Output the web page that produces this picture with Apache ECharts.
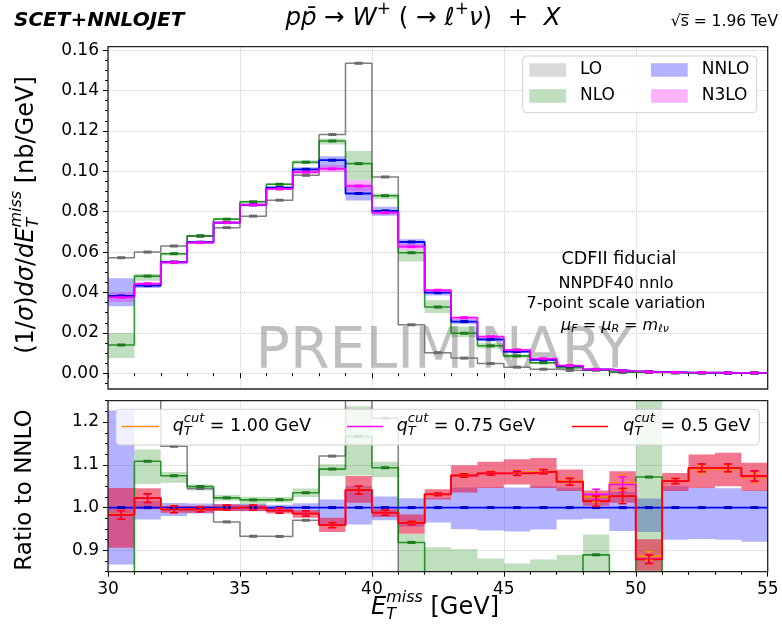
<!DOCTYPE html>
<html>
<head>
<meta charset="utf-8">
<title>W+ missing transverse energy at the Tevatron</title>
<script src="https://cdn.jsdelivr.net/npm/echarts@6.0.0/dist/echarts.min.js"></script>
<style>
html, body { margin: 0; padding: 0; background: #ffffff; }
#chart { width: 782px; height: 627px; }
</style>
</head>
<body>
<div id="chart"></div>
<script>
// Histogram bin edges in E_T^miss [GeV]
const binEdges = [30, 31, 32, 33, 34, 35, 36, 37, 38, 39, 40, 41, 42, 43, 44, 45, 46, 47, 48, 49, 50, 51, 52, 53, 54, 55];

// (1/sigma) dsigma/dE_T^miss [nb/GeV], central scale choice
const lo   = [0.0572, 0.0600, 0.0630, 0.0678, 0.0721, 0.0778, 0.0857, 0.0980, 0.1182, 0.1535, 0.0972, 0.0240, 0.0102, 0.0075, 0.0048, 0.0030, 0.0020, 0.0014, 0.00155, 0.0005, 0.0004, 0.0002, 0.0001, 0.0001, 0.0001];
const nlo  = [0.0140, 0.0481, 0.0592, 0.0681, 0.0763, 0.0849, 0.0936, 0.1045, 0.1150, 0.1038, 0.0879, 0.0597, 0.0328, 0.0198, 0.0136, 0.0086, 0.0052, 0.0028, 0.00169, 0.0006, 0.00075, 0.0002, 0.00015, 0.0001, 0.0001];
const nnlo = [0.0383, 0.0434, 0.0551, 0.0649, 0.0746, 0.0834, 0.0919, 0.1010, 0.1055, 0.0890, 0.0804, 0.0650, 0.0399, 0.0256, 0.0168, 0.0107, 0.0066, 0.0036, 0.0019, 0.0011, 0.0007, 0.0004, 0.0003, 0.0002, 0.0002];
const n3lo = [0.0376, 0.0443, 0.0549, 0.0647, 0.0746, 0.0834, 0.0913, 0.0996, 0.1012, 0.0927, 0.0795, 0.0627, 0.0411, 0.0275, 0.0181, 0.0116, 0.0072, 0.0038, 0.0019, 0.0011, 0.0006, 0.0004, 0.0003, 0.0002, 0.0002];

// 7-point scale-variation envelopes
const nloLow   = [0.0076, 0.0458, 0.0583, 0.0675, 0.0758, 0.0840, 0.0930, 0.1035, 0.1133, 0.0957, 0.0861, 0.0553, 0.0298, 0.0178, 0.0122, 0.0076, 0.0045, 0.0024, 0.0014, 0.0004, 0.0005, 0.00015, 0.0001, 0.00008, 0.00008];
const nloHigh  = [0.0199, 0.0493, 0.0597, 0.0684, 0.0768, 0.0855, 0.0942, 0.1055, 0.1162, 0.1101, 0.0890, 0.0610, 0.0362, 0.0231, 0.0148, 0.0093, 0.0058, 0.0032, 0.00178, 0.0008, 0.0010, 0.00025, 0.0002, 0.00012, 0.00012];
const nnloLow  = [0.0332, 0.0422, 0.0540, 0.0640, 0.0740, 0.0827, 0.0910, 0.0995, 0.1010, 0.0855, 0.0780, 0.0621, 0.0385, 0.0243, 0.0159, 0.0101, 0.00626, 0.00350, 0.00185, 0.00104, 0.00066, 0.00037, 0.000278, 0.000185, 0.000184];
const nnloHigh = [0.0470, 0.0441, 0.0557, 0.0655, 0.0752, 0.0841, 0.0925, 0.1020, 0.1075, 0.0935, 0.0825, 0.0664, 0.0408, 0.0268, 0.0176, 0.0112, 0.00693, 0.00377, 0.00196, 0.00114, 0.000715, 0.00042, 0.000314, 0.000209, 0.000208];
const n3loLow  = [0.0353, 0.0432, 0.0544, 0.0641, 0.0740, 0.0827, 0.0906, 0.0985, 0.0995, 0.0900, 0.0786, 0.0610, 0.0407, 0.0265, 0.0176, 0.0113, 0.0069, 0.0037, 0.0018, 0.00105, 0.00057, 0.00038, 0.00028, 0.00019, 0.00019];
const n3loHigh = [0.0400, 0.0453, 0.0554, 0.0652, 0.0752, 0.0841, 0.0919, 0.1004, 0.1030, 0.0956, 0.0801, 0.0640, 0.0416, 0.0281, 0.0186, 0.0119, 0.0074, 0.0039, 0.0020, 0.0012, 0.00065, 0.00043, 0.00034, 0.00022, 0.00022];

// N3LO / NNLO for three q_T slicing cuts
const ratioQt100 = [0.984, 1.023, 0.997, 0.997, 1.000, 1.000, 0.993, 0.986, 0.960, 1.042, 0.988, 0.965, 1.032, 1.076, 1.081, 1.083, 1.085, 1.063, 1.025, 1.058, 0.887, 1.063, 1.089, 1.091, 1.070];
const ratioQt075 = [0.983, 1.022, 0.996, 0.996, 1.000, 1.000, 0.993, 0.986, 0.959, 1.041, 0.988, 0.964, 1.031, 1.075, 1.080, 1.081, 1.084, 1.061, 1.031, 1.054, 0.880, 1.062, 1.093, 1.093, 1.073];
const ratioQt050 = [0.983, 1.022, 0.996, 0.996, 1.000, 1.000, 0.993, 0.986, 0.959, 1.041, 0.988, 0.964, 1.031, 1.075, 1.080, 1.080, 1.084, 1.060, 1.015, 1.027, 0.879, 1.062, 1.093, 1.093, 1.074];
const ratioQt050Low  = [0.906, 0.996, 0.988, 0.988, 0.992, 0.992, 0.986, 0.976, 0.943, 1.011, 0.978, 0.939, 1.019, 1.035, 1.046, 1.054, 1.046, 1.039, 1.004, 1.011, 0.852, 1.039, 1.046, 1.050, 1.039];
const ratioQt050High = [1.046, 1.045, 1.004, 1.004, 1.008, 1.006, 1.000, 0.994, 0.976, 1.074, 0.996, 0.984, 1.043, 1.099, 1.107, 1.113, 1.116, 1.089, 1.040, 1.085, 0.926, 1.081, 1.124, 1.128, 1.105];
// Monte Carlo integration uncertainty on the ratios
const ratioMcErr = [0.010, 0.010, 0.008, 0.006, 0.006, 0.006, 0.006, 0.006, 0.006, 0.009, 0.006, 0.004, 0.003, 0.004, 0.004, 0.005, 0.005, 0.008, 0.012, 0.018, 0.010, 0.006, 0.009, 0.009, 0.012];

// Axis tick values
const topTicks   = [0, 0.02, 0.04, 0.06, 0.08, 0.10, 0.12, 0.14, 0.16];
const ratioTicks = [0.9, 1.0, 1.1, 1.2];

// ---------- layout ----------
const FONT = '"DejaVu Sans"';
const PLOT_L = 108, PLOT_W = 659.7;
const TOP_T = 46.7, TOP_H = 342.3;
const BOT_T = 400.7, BOT_H = 171;
const TOP_MIN = -0.0078, TOP_MAX = 0.1617;
const RAT_MIN = 0.85, RAT_MAX = 1.25;

const minorTop = [];
for (let k = -1; k <= 32; k++) minorTop.push(+(k * 0.005).toFixed(4));
const minorRatio = [];
for (let k = 34; k <= 50; k++) minorRatio.push(+(k * 0.025).toFixed(4));

const nBins = binEdges.length - 1;
const binCenters = binEdges.slice(0, nBins).map((e, i) => (e + binEdges[i + 1]) / 2);
const toRatio = arr => arr.map((v, i) => v / nnlo[i]);
const stepData = vals => vals.map((v, i) => [binEdges[i], v]).concat([[binEdges[nBins], vals[nBins - 1]]]);

// ---------- series builders ----------
function stepLine(vals, color, width, panel, z) {
  return {
    type: 'line', xAxisIndex: panel, yAxisIndex: panel * 2, step: 'end',
    data: stepData(vals), showSymbol: false, symbol: 'none', silent: true,
    lineStyle: { color: color, width: width }, z: z, animation: false
  };
}

function stepBand(lowArr, highArr, color, panel, z) {
  return {
    type: 'custom', xAxisIndex: panel, yAxisIndex: panel * 2, silent: true, z: z,
    data: lowArr.map((v, i) => [binEdges[i], binEdges[i + 1], v, highArr[i]]),
    encode: { x: [0, 1], y: [2, 3] },
    renderItem: function (params, api) {
      if (params.dataIndex !== 0) return;
      const cs = params.coordSys;
      const cy = y => Math.min(Math.max(y, cs.y), cs.y + cs.height);
      const top = [], bot = [];
      for (let i = 0; i < lowArr.length; i++) {
        const a = api.coord([binEdges[i], highArr[i]]);
        const b = api.coord([binEdges[i + 1], highArr[i]]);
        const c = api.coord([binEdges[i], lowArr[i]]);
        const d = api.coord([binEdges[i + 1], lowArr[i]]);
        top.push([a[0], cy(a[1])], [b[0], cy(b[1])]);
        bot.push([c[0], cy(c[1])], [d[0], cy(d[1])]);
      }
      return { type: 'polygon', shape: { points: top.concat(bot.reverse()) }, style: { fill: color } };
    }
  };
}

function centreDashes(vals, color, panel, z) {
  return {
    type: 'custom', xAxisIndex: panel, yAxisIndex: panel * 2, silent: true, z: z,
    data: vals.map((v, i) => [binCenters[i], v]),
    encode: { x: 0, y: 1 },
    renderItem: function (params, api) {
      const p = api.coord([api.value(0), api.value(1)]);
      const cs = params.coordSys;
      if (p[1] < cs.y || p[1] > cs.y + cs.height) return;
      return { type: 'rect', shape: { x: p[0] - 4, y: p[1] - 1.5, width: 8, height: 3 }, style: { fill: color } };
    }
  };
}

function errorBars(vals, errs, color, z) {
  return {
    type: 'custom', xAxisIndex: 1, yAxisIndex: 2, silent: true, z: z,
    data: vals.map((v, i) => [binCenters[i], v, v - errs[i], v + errs[i]]),
    encode: { x: 0, y: [1, 2, 3] },
    renderItem: function (params, api) {
      const x = api.value(0);
      const c = api.coord([x, api.value(1)]);
      const l = api.coord([x, api.value(2)]);
      const h = api.coord([x, api.value(3)]);
      const cs = params.coordSys;
      if (c[1] < cs.y || c[1] > cs.y + cs.height) return;
      const st = { stroke: color, lineWidth: 1.5 };
      return {
        type: 'group', children: [
          { type: 'line', shape: { x1: c[0], y1: l[1], x2: c[0], y2: h[1] }, style: st },
          { type: 'line', shape: { x1: c[0] - 4, y1: l[1], x2: c[0] + 4, y2: l[1] }, style: st },
          { type: 'line', shape: { x1: c[0] - 4, y1: h[1], x2: c[0] + 4, y2: h[1] }, style: st }
        ]
      };
    }
  };
}

// ---------- text with sub/superscripts ----------
const measureCtx = document.createElement('canvas').getContext('2d');
function pieceFont(p) {
  return (p.i ? 'italic ' : '') + (p.b ? 'bold ' : '') + p.s + 'px ' + FONT;
}
function mathText(pieces, opt) {
  let x = 0, prevStart = 0;
  const z = opt.z || 100;
  const kids = [];
  pieces.forEach(p => {
    measureCtx.font = pieceFont(p);
    const w = measureCtx.measureText(p.t).width;
    const start = p.stack ? prevStart : x;
    kids.push({
      type: 'text', x: start, y: -(p.dy || 0), z: z,
      style: { text: p.t, font: pieceFont(p), fill: opt.color || '#000',
               align: 'left', textAlign: 'left', verticalAlign: 'middle', textVerticalAlign: 'middle' }
    });
    x = Math.max(x, start + w);
    prevStart = start;
  });
  const shift = opt.align === 'center' ? -x / 2 : (opt.align === 'right' ? -x : 0);
  kids.forEach(k => { k.x += shift; });
  return { type: 'group', x: opt.x, y: opt.y, rotation: opt.rotation || 0, z: z, children: kids };
}
function plainText(text, x, y, size, opt) {
  opt = opt || {};
  return {
    type: 'text', x: x, y: y, z: opt.z || 100,
    style: { text: text, font: (opt.italic ? 'italic ' : '') + (opt.bold ? 'bold ' : '') + size + 'px ' + FONT,
             fill: opt.color || '#000', opacity: opt.opacity == null ? 1 : opt.opacity,
             align: opt.align || 'center', textAlign: opt.align || 'center',
             verticalAlign: 'middle', textVerticalAlign: 'middle' }
  };
}

// ---------- colours ----------
const C = {
  loLine: 'rgba(105,105,105,0.85)', loFill: 'rgba(128,128,128,0.3)', loDash: '#6a6a6a',
  nloLine: 'rgba(0,128,0,0.8)', nloFill: 'rgba(0,128,0,0.25)', nloDash: '#1c7a1c',
  nnloLine: '#0000ff', nnloFill: 'rgba(0,0,255,0.3)', nnloDash: '#0000c8',
  n3loLine: 'rgba(255,0,255,0.9)', n3loFill: 'rgba(255,0,255,0.3)', n3loDash: '#ff00ff',
  qt100: '#ff8c00', qt075: '#ff00ff', qt050: '#ff0000', qt050Fill: 'rgba(232,20,60,0.58)'
};

// ---------- axes ----------
const gridLine = { show: true, lineStyle: { color: '#cccccc', type: 'dotted', width: 1 } };
function xAxisFor(panel) {
  return {
    type: 'value', gridIndex: panel, min: 30, max: 55, interval: 5,
    axisLine: { show: false },
    axisTick: { show: true, length: 5, lineStyle: { color: '#000', width: 1 } },
    minorTick: { show: true, splitNumber: 5, length: 3, lineStyle: { color: '#000', width: 1 } },
    axisLabel: { show: panel === 1, fontSize: 17, fontFamily: FONT, color: '#000', margin: 9 },
    splitLine: gridLine, minorSplitLine: { show: false }
  };
}
function yAxisMajor(panel, min, max, splitNumber, ticks, digits) {
  return {
    type: 'value', gridIndex: panel, position: 'left', min: min, max: max, splitNumber: splitNumber,
    axisLine: { show: false },
    axisTick: { show: true, length: 5, customValues: ticks, lineStyle: { color: '#000', width: 1 } },
    minorTick: { show: false },
    axisLabel: { show: true, customValues: ticks, fontSize: 17, fontFamily: FONT, color: '#000', margin: 9,
                 formatter: v => Number(v).toFixed(digits) },
    splitLine: gridLine
  };
}
function yAxisMinor(panel, min, max, ticks) {
  return {
    type: 'value', gridIndex: panel, position: 'left', min: min, max: max,
    axisLine: { show: false },
    axisTick: { show: true, length: 3, customValues: ticks, lineStyle: { color: '#000', width: 1 } },
    axisLabel: { show: false }, splitLine: { show: false }, minorTick: { show: false }
  };
}

// ---------- series ----------
const ones = nnlo.map(() => 1);
const series = [
  // distributions
  stepBand(nloLow, nloHigh, C.nloFill, 0, 1),
  stepBand(nnloLow, nnloHigh, C.nnloFill, 0, 1),
  stepBand(n3loLow, n3loHigh, C.n3loFill, 0, 1),
  stepLine(lo, C.loLine, 1.5, 0, 3),
  stepLine(nlo, C.nloLine, 1.6, 0, 3),
  stepLine(nnlo, C.nnloLine, 1.8, 0, 3),
  stepLine(n3lo, C.n3loLine, 1.8, 0, 3),
  centreDashes(lo, C.loDash, 0, 4),
  centreDashes(nlo, C.nloDash, 0, 4),
  centreDashes(nnlo, C.nnloDash, 0, 4),
  centreDashes(n3lo, C.n3loDash, 0, 4),
  // ratios to NNLO
  stepBand(toRatio(nnloLow), toRatio(nnloHigh), C.nnloFill, 1, 1),
  stepBand(toRatio(nloLow), toRatio(nloHigh), C.nloFill, 1, 1),
  stepBand(ratioQt050Low, ratioQt050High, C.qt050Fill, 1, 1),
  stepLine(toRatio(lo), C.loLine, 1.5, 1, 3),
  stepLine(toRatio(nlo), C.nloLine, 1.6, 1, 3),
  stepLine(ones, C.nnloLine, 1.6, 1, 3),
  stepLine(ratioQt100, C.qt100, 1.6, 1, 3),
  stepLine(ratioQt075, C.qt075, 1.6, 1, 3),
  stepLine(ratioQt050, C.qt050, 1.8, 1, 3),
  centreDashes(toRatio(lo), C.loDash, 1, 4),
  centreDashes(toRatio(nlo), C.nloDash, 1, 4),
  centreDashes(ones, C.nnloDash, 1, 4),
  errorBars(ratioQt100, ratioMcErr, C.qt100, 5),
  errorBars(ratioQt075, ratioMcErr, C.qt075, 5),
  errorBars(ratioQt050, ratioMcErr, C.qt050, 5)
];

// ---------- decorations ----------
const sub = 13, main = 24.5, axisMain = 24;
const graphic = [
  // plot frames
  { type: 'rect', z: 90, shape: { x: PLOT_L, y: TOP_T, width: PLOT_W, height: TOP_H }, style: { fill: null, stroke: '#222', lineWidth: 1.3 } },
  { type: 'rect', z: 90, shape: { x: PLOT_L, y: BOT_T, width: PLOT_W, height: BOT_H }, style: { fill: null, stroke: '#222', lineWidth: 1.3 } },

  // watermark
  plainText('PRELIMINARY', 444, 353, 57, { color: '#808080', opacity: 0.5, z: 1 }),

  // headings
  plainText('SCET+NNLOJET', 14, 21, 20, { bold: true, italic: true, align: 'left' }),
  mathText([
    { t: 'p', s: main, i: 1 }, { t: 'p\u0304', s: main, i: 1 }, { t: ' \u2192 ', s: main },
    { t: 'W', s: main, i: 1 }, { t: '+', s: 17, dy: 9 }, { t: ' ( \u2192 ', s: main },
    { t: '\u2113', s: main, i: 1 }, { t: '+', s: 17, dy: 9 }, { t: '\u03bd', s: main, i: 1 },
    { t: ')  +  ', s: main }, { t: 'X', s: main, i: 1 }
  ], { x: 423, y: 19, align: 'center' }),
  plainText('\u221as\u0305 = 1.96 TeV', 778, 22, 15.5, { align: 'right' }),

  // run information
  plainText('CDFII fiducial', 619, 259, 17.5),
  plainText('NNPDF40 nnlo', 616, 284, 16),
  plainText('7-point scale variation', 616, 303.5, 16),
  mathText([
    { t: '\u03bc', s: 16, i: 1 }, { t: 'F', s: 11, i: 1, dy: -4 }, { t: ' = ', s: 16 },
    { t: '\u03bc', s: 16, i: 1 }, { t: 'R', s: 11, i: 1, dy: -4 }, { t: ' = ', s: 16 },
    { t: 'm', s: 16, i: 1 }, { t: '\u2113\u03bd', s: 11, i: 1, dy: -4 }
  ], { x: 615, y: 325.5, align: 'center' }),

  // axis titles
  mathText([
    { t: '(1/', s: axisMain }, { t: '\u03c3', s: axisMain, i: 1 }, { t: ')', s: axisMain },
    { t: 'd\u03c3', s: axisMain, i: 1 }, { t: '/', s: axisMain }, { t: 'dE', s: axisMain, i: 1 },
    { t: 'T', s: 16, i: 1, dy: -7 }, { t: 'miss', s: 16, i: 1, dy: 10, stack: 1 },
    { t: ' [nb/GeV]', s: axisMain }
  ], { x: 27, y: 215, align: 'center', rotation: Math.PI / 2 }),
  mathText([{ t: 'Ratio to NNLO', s: 23 }], { x: 25, y: 490, align: 'center', rotation: Math.PI / 2 }),
  mathText([
    { t: 'E', s: axisMain, i: 1 }, { t: 'T', s: 16, i: 1, dy: -7 }, { t: 'miss', s: 16, i: 1, dy: 10, stack: 1 },
    { t: ' [GeV]', s: axisMain }
  ], { x: 435, y: 608, align: 'center' }),

  // legend of the distributions
  { type: 'rect', z: 95, shape: { x: 522.7, y: 56, width: 234, height: 56.7, r: 4 },
    style: { fill: 'rgba(255,255,255,0.8)', stroke: '#d0d0d0', lineWidth: 1 } },
  { type: 'rect', z: 96, shape: { x: 529.3, y: 63.3, width: 36.7, height: 13.4 }, style: { fill: C.loFill } },
  { type: 'rect', z: 96, shape: { x: 529.3, y: 89.3, width: 36.7, height: 13.4 }, style: { fill: C.nloFill } },
  { type: 'rect', z: 96, shape: { x: 651, y: 63.3, width: 36.7, height: 13.4 }, style: { fill: C.nnloFill } },
  { type: 'rect', z: 96, shape: { x: 651, y: 89.3, width: 36.7, height: 13.4 }, style: { fill: C.n3loFill } },
  plainText('LO', 580, 70, 17, { align: 'left', z: 97 }),
  plainText('NLO', 580, 96, 17, { align: 'left', z: 97 }),
  plainText('NNLO', 701.7, 70, 17, { align: 'left', z: 97 }),
  plainText('N3LO', 701.7, 96, 17, { align: 'left', z: 97 }),

  // legend of the slicing cuts
  { type: 'rect', z: 95, shape: { x: 116, y: 409.3, width: 643.3, height: 35.7, r: 4 },
    style: { fill: 'rgba(255,255,255,0.8)', stroke: '#d0d0d0', lineWidth: 1 } },
  { type: 'line', z: 96, shape: { x1: 122, y1: 426.5, x2: 159, y2: 426.5 }, style: { stroke: C.qt100, lineWidth: 1.6 } },
  { type: 'line', z: 96, shape: { x1: 347, y1: 426.5, x2: 383, y2: 426.5 }, style: { stroke: C.qt075, lineWidth: 1.6 } },
  { type: 'line', z: 96, shape: { x1: 572, y1: 426.5, x2: 608, y2: 426.5 }, style: { stroke: C.qt050, lineWidth: 1.6 } }
];
[['1.00', 172.7], ['0.75', 396.7], ['0.5', 623.3]].forEach(([cut, x0]) => {
  graphic.push(mathText([
    { t: 'q', s: 17.5, i: 1 }, { t: 'T', s: sub, i: 1, dy: -6 }, { t: 'cut', s: sub, i: 1, dy: 7, stack: 1 },
    { t: ' = ' + cut + ' GeV', s: 17.5 }
  ], { x: x0, y: 426, align: 'left', z: 97 }));
});

const chart = echarts.init(document.getElementById('chart'), null, { renderer: 'canvas' });
chart.setOption({
  animation: false,
  backgroundColor: '#ffffff',
  textStyle: { fontFamily: FONT },
  grid: [
    { left: PLOT_L, top: TOP_T, width: PLOT_W, height: TOP_H, containLabel: false, outerBoundsMode: 'none' },
    { left: PLOT_L, top: BOT_T, width: PLOT_W, height: BOT_H, containLabel: false, outerBoundsMode: 'none' }
  ],
  xAxis: [xAxisFor(0), xAxisFor(1)],
  yAxis: [
    yAxisMajor(0, TOP_MIN, TOP_MAX, 8, topTicks, 2),
    yAxisMinor(0, TOP_MIN, TOP_MAX, minorTop),
    yAxisMajor(1, RAT_MIN, RAT_MAX, 4, ratioTicks, 1),
    yAxisMinor(1, RAT_MIN, RAT_MAX, minorRatio)
  ],
  series: series,
  graphic: graphic
});
</script>
</body>
</html>
